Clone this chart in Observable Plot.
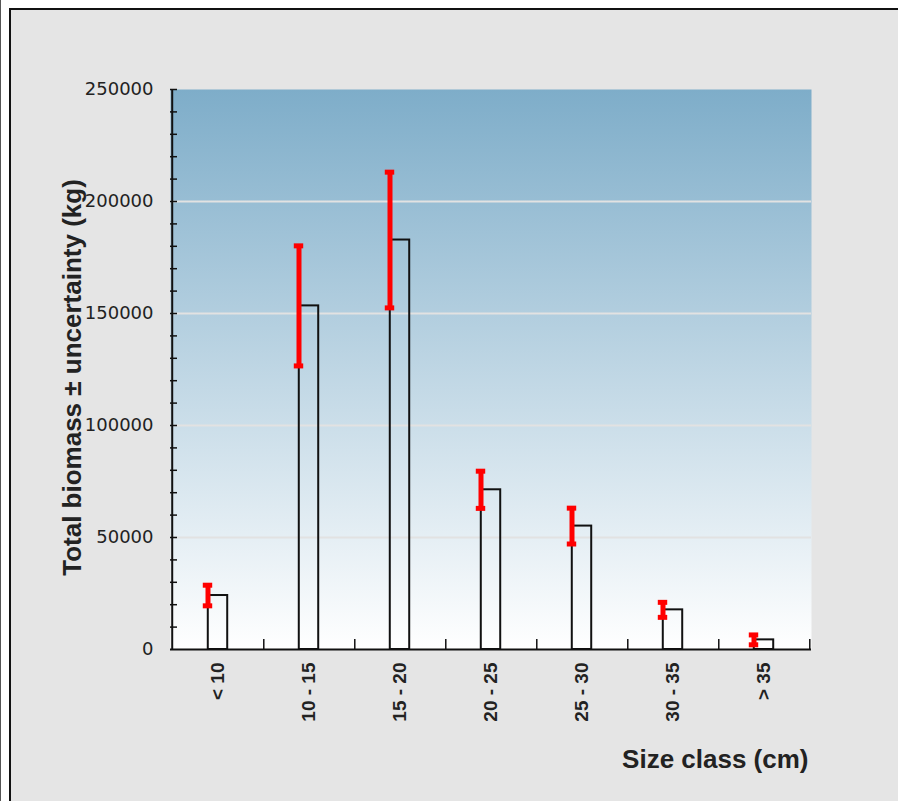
<!DOCTYPE html>
<html><head><meta charset="utf-8">
<script src="https://cdn.jsdelivr.net/npm/d3@7"></script>
<script src="https://cdn.jsdelivr.net/npm/@observablehq/plot@0.6"></script>
<style>
html,body{margin:0;padding:0;background:#fff;overflow:hidden;width:898px;height:801px}
#edge{position:absolute;left:0;top:0;width:1px;height:801px;background:#555}
#frame{position:absolute;left:9px;top:8px;width:889px;height:793px;background:#e5e5e5;border-top:2px solid #111;border-left:2px solid #111}
</style></head><body><div id="edge"></div><div id="frame"></div>
<script>
const categories = ["< 10", "10 - 15", "15 - 20", "20 - 25", "25 - 30", "30 - 35", "> 35"];
const biomass = [24100, 153400, 182800, 71300, 55100, 17700, 4300];
const uncertainty = [4600, 26800, 30300, 8300, 8000, 3350, 2200];
const yLabelTicks = [0, 50000, 100000, 150000, 200000, 250000];
const yMinorTicks = [10000, 20000, 30000, 40000, 50000, 60000, 70000, 80000, 90000, 100000, 110000, 120000, 130000, 140000, 150000, 160000, 170000, 180000, 190000, 200000, 210000, 220000, 230000, 240000, 250000];
const gridValues = [50000, 100000, 150000, 200000];
const xTitle = "Size class (cm)";
const yTitle = "Total biomass ± uncertainty (kg)";

const rows = categories.map((c, i) => ({cls: c, value: biomass[i], lo: biomass[i] - uncertainty[i], hi: biomass[i] + uncertainty[i]}));

const W = 887, H = 791, mL = 159, mT = 79, mR = 87, mB = 152;
const plotW = W - mL - mR;
const plotH = H - mT - mB;
const step = plotW / categories.length;
const barW = 20;
const capW = 10;

const gradient = () => {
  const defs = d3.create("svg:defs");
  const g = defs.append("linearGradient").attr("id", "bg-grad").attr("x1", 0).attr("y1", 0).attr("x2", 0).attr("y2", 1);
  g.append("stop").attr("offset", "0%").attr("stop-color", "#7eadc9");
  g.append("stop").attr("offset", "100%").attr("stop-color", "#ffffff");
  return defs.node();
};

const titleFont = "'Liberation Sans', Arial, sans-serif";

const chart = Plot.plot({
  width: W, height: H, marginLeft: mL, marginTop: mT, marginRight: mR, marginBottom: mB,
  style: {background: "transparent", fontFamily: "'DejaVu Sans', sans-serif", overflow: "visible"},
  x: {domain: categories, padding: 0, label: null},
  y: {domain: [0, 250000], label: null},
  marks: [
    gradient,
    Plot.frame({fill: "url(#bg-grad)", stroke: "none"}),
    Plot.ruleY(gridValues, {stroke: "#e2e2e2", strokeWidth: 2}),
    Plot.ruleY(yMinorTicks, {y: d => d, stroke: "#111", strokeWidth: 1.5, insetRight: plotW - 7}),
    Plot.ruleX(categories, {x: d => d, dx: step / 2, stroke: "#111", strokeWidth: 1.5, insetTop: plotH - 10}),
    Plot.barY(rows, {x: "cls", y: "value", fill: "none", stroke: "#111", strokeWidth: 2, insetLeft: (step - barW) / 2, insetRight: (step - barW) / 2}),
    Plot.ruleX(rows, {x: "cls", y1: "lo", y2: "hi", dx: -barW / 2, stroke: "#ff0000", strokeWidth: 5}),
    Plot.tickY(rows, {x: "cls", y: "hi", dx: -barW / 2, stroke: "#ff0000", strokeWidth: 5, insetLeft: (step - capW) / 2, insetRight: (step - capW) / 2}),
    Plot.tickY(rows, {x: "cls", y: "lo", dx: -barW / 2, stroke: "#ff0000", strokeWidth: 5, insetLeft: (step - capW) / 2, insetRight: (step - capW) / 2}),
    Plot.ruleY([0], {stroke: "#111", strokeWidth: 2}),
    Plot.ruleX([categories[0]], {x: d => d, dx: -step / 2, stroke: "#111", strokeWidth: 2}),
    Plot.axisY(yLabelTicks, {tickSize: 0, tickPadding: 17, fontSize: 18, tickFormat: d3.format("d"), fill: "#222", label: null}),
    Plot.axisX({tickSize: 0, tickRotate: -90, tickPadding: 13, fontSize: 19, fontWeight: "bold", fontFamily: titleFont, fill: "#222", label: null}),
    Plot.text([xTitle], {frameAnchor: "bottom-right", dx: -3, dy: 118, textAnchor: "end", fontSize: 26, fontWeight: "bold", fontFamily: titleFont, fill: "#222"}),
    Plot.text([yTitle], {frameAnchor: "left", textAnchor: "middle", rotate: -90, dx: -98, dy: 8, fontSize: 26, fontWeight: "bold", fontFamily: titleFont, fill: "#222"})
  ]
});
document.getElementById("frame").appendChild(chart);
</script>
</body></html>
